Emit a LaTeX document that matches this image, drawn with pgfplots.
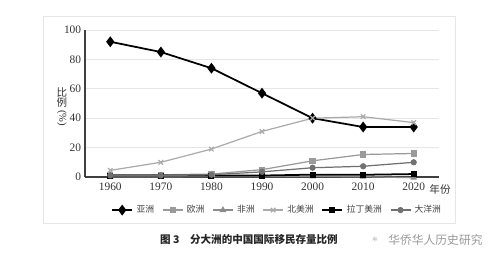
\documentclass[border=0pt]{standalone}
\usepackage{fontspec}
\setmainfont{Liberation Serif}
\newfontfamily\cjk{Noto Sans CJK SC}
\usepackage{graphicx}
\usepackage{pgfplots}
\pgfplotsset{compat=1.18}
\definecolor{gA}{HTML}{000000}
\definecolor{gEu}{HTML}{9A9A9A}
\definecolor{gAf}{HTML}{8C8C8C}
\definecolor{gNA}{HTML}{ABABAB}
\definecolor{gOc}{HTML}{707070}
\definecolor{gridc}{HTML}{E6E6E6}
\begin{document}
\begin{tikzpicture}
\path[use as bounding box, fill=white] (0,0) rectangle (10,5.18);
\draw[gridc, line width=0.5pt] (0.86,0.72) rectangle (9.10,4.86);
\begin{axis}[
  at={(1.7cm,1.64cm)}, anchor=south west,
  scale only axis, width=7.08cm, height=2.94cm,
  xmin=1955, xmax=2025, ymin=0, ymax=100,
  xtick={1960,1970,1980,1990,2000,2010,2020},
  ytick={0,20,40,60,80,100},
  axis x line=bottom, axis y line=left,
  axis line style={draw=black!75, line width=0.8pt, -},
  major tick length=0pt,
  ymajorgrids, grid style={gridc, line width=0.5pt},
  tick label style={font=\fontsize{6.5}{7}\selectfont, text=black!80},
  yticklabel style={inner xsep=1pt, xshift=-1pt},
  /pgf/number format/assume math mode=true,
  /pgf/number format/1000 sep={},
  clip=false,
  legend columns=6,
  legend style={at={(0.545,-0.225)}, anchor=center, draw=none, fill=none,
    font=\fontsize{5}{6}\selectfont\cjk, text=black!75,
    /tikz/every even column/.append style={column sep=2.5pt}},
  legend cell align=left,
  legend image code/.code={\draw[mark repeat=2,mark phase=2] plot coordinates {(0cm,0cm) (0.2cm,0cm) (0.4cm,0cm)};},
]
\addplot[black, line width=1.0pt, mark=diamond*, mark size=2.3pt, mark options={solid, fill=black}]
  coordinates {(1960,92) (1970,85) (1980,74) (1990,57) (2000,40) (2010,34) (2020,34)};
\addlegendentry{亚洲}
\addplot[gEu, line width=0.7pt, mark=square*, mark size=1.4pt, mark options={fill=gEu}]
  coordinates {(1960,1.5) (1970,1.5) (1980,2) (1990,5) (2000,11) (2010,15.3) (2020,16)};
\addlegendentry{欧洲}
\addplot[gAf, line width=0.7pt, mark=triangle*, mark size=1.5pt, mark options={fill=gAf}]
  coordinates {(1960,0.2) (1970,0.2) (1980,0.3) (1990,0.4) (2000,0.3) (2010,0.2) (2020,-0.5)};
\addlegendentry{非洲}
\addplot[gNA, line width=0.7pt, mark=x, mark size=1.8pt]
  coordinates {(1960,4.5) (1970,10) (1980,19) (1990,31) (2000,40) (2010,41) (2020,37)};
\addlegendentry{北美洲}
\addplot[black, line width=1.0pt, mark=square*, mark size=1.2pt, mark options={fill=black}]
  coordinates {(1960,1) (1970,1) (1980,1) (1990,1) (2000,1.6) (2010,1.5) (2020,2)};
\addlegendentry{拉丁美洲}
\addplot[gOc, line width=0.7pt, mark=*, mark size=1.4pt, mark options={fill=gOc}]
  coordinates {(1960,1) (1970,1) (1980,1.5) (1990,3.5) (2000,6.3) (2010,7.3) (2020,10)};
\addlegendentry{大洋洲}
\end{axis}
\node[font=\fontsize{6}{5.7}\selectfont\cjk, text=black!80, inner sep=0pt, align=center, anchor=north] at (1.24,3.43)
  {比\\例\\[-3.6pt]{\rmfamily\rotatebox{-90}{(\%)}}};
\node[font=\fontsize{6}{7}\selectfont\cjk, text=black!80, inner sep=0pt] at (8.80,1.40) {年份};
\node[font=\fontsize{6}{7}\selectfont\cjk\bfseries, text=black!85, inner sep=0pt] at (4.98,0.38) {图 3\quad 分大洲的中国国际移民存量比例};
\node[font=\fontsize{6.7}{8}\selectfont\cjk, text=black!40, inner sep=0pt, anchor=west] at (7.76,0.37) {华侨华人历史研究};
\node[font=\fontsize{7}{8}\selectfont, text=black!30, inner sep=0pt] at (7.50,0.38) {$\ast$};
\end{tikzpicture}
\end{document}
